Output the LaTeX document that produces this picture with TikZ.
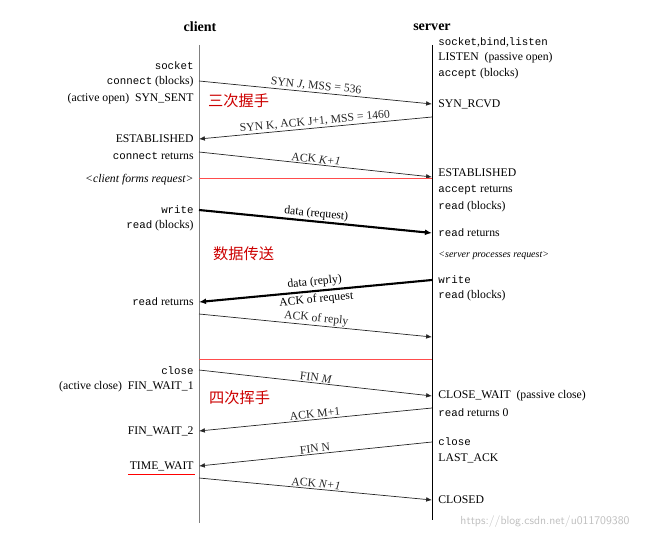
\documentclass[tikz,border=0pt]{standalone}
\usepackage{fontspec}
\setmainfont{Liberation Serif}
\setmonofont[Scale=0.92]{Liberation Mono}
\newfontfamily\cjk{Noto Sans CJK SC}
\usetikzlibrary{arrows.meta}
\begin{document}
\begin{tikzpicture}[x=0.03cm, y=-0.03cm, font=\fontsize{10}{11}\selectfont,
    msg/.style   = {-{Latex[length=5pt,width=4pt]}, semithick, black!85},
    bigmsg/.style= {-{Latex[length=6pt,width=5pt]}, line width=1.8pt},
    lab/.style   = {midway, above, sloped, inner sep=1pt},
    lleft/.style = {anchor=east, inner sep=1pt},
    lright/.style= {anchor=west, inner sep=1pt},
    stage/.style = {text=red!80!black, font=\cjk\fontsize{13}{13}\selectfont, anchor=west}]
    \useasboundingbox (0,0) rectangle (671,540);

    % The two timelines
    \node[font=\bfseries\fontsize{12}{13}\selectfont] (cl) at (200,27) {client};
    \node[font=\bfseries\fontsize{12}{13}\selectfont] (sv) at (432,27) {server};
    \draw[gray] (199,45) -- (199,523);  % client line
    \draw (432,45) -- (432,520);        % server line

    % Endpoints of the messages
    \foreach \n/\y in {c1/81, c2/139, c3/152, c4/210, c5/302, c6/314, c7/370, c8/431, c9/466, c10/478}
        \coordinate (\n) at (199,\y);
    \foreach \n/\y in {s1/104, s2/117, s3/177, s4/233, s5/280, s6/337, s7/396, s8/408, s9/442, s10/500}
        \coordinate (\n) at (432,\y);

    % Three-way handshake
    \draw[msg] (c1) -- (s1) node[lab] {SYN \textit{J}, MSS = 536};
    \draw[msg] (s2) -- (c2) node[lab] {SYN K, ACK J+1, MSS = 1460};
    \draw[msg] (c3) -- (s3) node[lab] {ACK \textit{K+1}};
    \draw[red!70] (199,178) -- (432,178);

    % Data transfer
    \draw[bigmsg] (c4) -- (s4) node[lab] {data (request)};
    \draw[bigmsg] (s5) -- (c5) node[lab, inner sep=2pt] {data (reply)} node[midway, below, sloped, inner sep=2pt] {ACK of request};
    \draw[msg] (c6) -- (s6) node[lab] {ACK of reply};
    \draw[red!70] (199,359) -- (432,359);

    % Four-way close
    \draw[msg] (c7) -- (s7) node[lab] {FIN \textit{M}};
    \draw[msg] (s8) -- (c8) node[lab] {ACK M+1};
    \draw[msg] (s9) -- (c9) node[lab] {FIN N};
    \draw[msg] (c10) -- (s10) node[lab] {ACK \textit{N+1}};

    % Client side
    \node[lleft] (csock) at (195,66)  {\texttt{socket}};
    \node[lleft] (ccon)  at (195,82)  {\texttt{connect} (blocks)};
    \node[lleft] (csent) at (195,99)  {(active open)\ \ SYN\_SENT};
    \node[lleft] (cest)  at (195,139) {ESTABLISHED};
    \node[lleft] (cret)  at (195,156) {\texttt{connect} returns};
    \node[lleft] (cform) at (195,180) {\textit{<client forms request>}};
    \node[lleft] (cwr)   at (195,210) {\texttt{write}};
    \node[lleft] (crd)   at (195,226) {\texttt{read} (blocks)};
    \node[lleft] (crr)   at (195,302) {\texttt{read} returns};
    \node[lleft] (ccl)   at (195,371) {\texttt{close}};
    \node[lleft] (cfw1)  at (195,387) {(active close)\ \ FIN\_WAIT\_1};
    \node[lleft] (cfw2)  at (195,431) {FIN\_WAIT\_2};
    \node[lleft] (ctw)   at (195,466) {TIME\_WAIT};
    \draw[red, thick] ([yshift=-2pt]ctw.south west) -- ([yshift=-2pt]ctw.south east);

    % Server side
    \node[lright] (ssock) at (437,42)  {\texttt{socket},\texttt{bind},\texttt{listen}};
    \node[lright] (slis)  at (437,58)  {LISTEN\ \ (passive open)};
    \node[lright] (sacc)  at (437,74)  {\texttt{accept} (blocks)};
    \node[lright] (srcvd) at (437,104) {SYN\_RCVD};
    \node[lright] (sest)  at (437,173) {ESTABLISHED};
    \node[lright] (saret) at (437,190) {\texttt{accept} returns};
    \node[lright] (srd)   at (437,207) {\texttt{read} (blocks)};
    \node[lright] (srr)   at (437,233) {\texttt{read} returns};
    \node[lright, font=\fontsize{8.5}{10}\selectfont] (sproc) at (437,256) {\textit{<server processes request>}};
    \node[lright] (swr)   at (437,280) {\texttt{write}};
    \node[lright] (srd2)  at (437,296) {\texttt{read} (blocks)};
    \node[lright] (scw)   at (437,396) {CLOSE\_WAIT\ \ (passive close)};
    \node[lright] (sr0)   at (437,413) {\texttt{read} returns 0};
    \node[lright] (scl)   at (437,442) {\texttt{close}};
    \node[lright] (slast) at (437,458) {LAST\_ACK};
    \node[lright] (sclo)  at (437,500) {CLOSED};

    % Stages
    \node[stage] (hs)  at (204,101) {三次握手};
    \node[stage] (dt)  at (209,254) {数据传送};
    \node[stage] (fin) at (205,398) {四次挥手};

    \node[text=black!25, font=\fontsize{10}{11}\selectfont\sffamily] (wm) at (545,522) {https://blog.csdn.net/u011709380};
\end{tikzpicture}
\end{document}
